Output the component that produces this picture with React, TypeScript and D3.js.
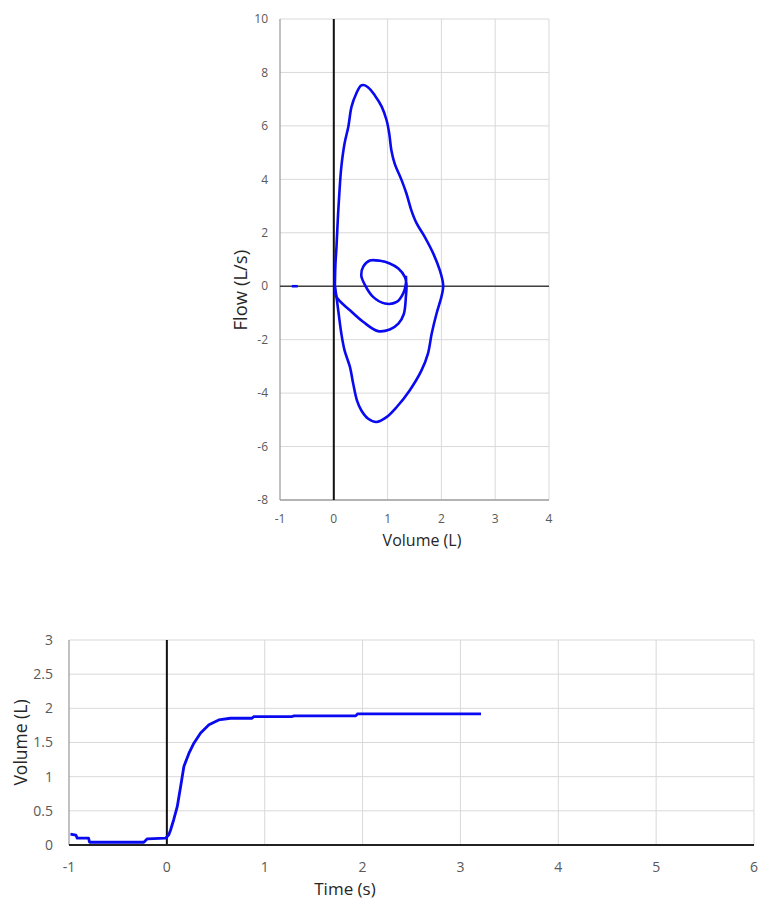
import React from "react";
import * as d3 from "d3";

// flow-volume loops: [volume (L), flow (L/s)]
const outerLoop: [number, number][] = [
  [0.02, 0.0], [0.03, 0.8], [0.05, 1.47], [0.08, 2.72], [0.11, 3.7], [0.14, 4.47],
  [0.2, 5.34], [0.27, 5.97], [0.33, 6.72], [0.42, 7.22], [0.5, 7.5], [0.55, 7.53],
  [0.64, 7.44], [0.76, 7.15], [0.89, 6.72], [0.98, 6.22], [1.03, 5.72], [1.07, 5.09],
  [1.13, 4.6], [1.26, 3.97], [1.35, 3.47], [1.44, 2.85], [1.54, 2.35], [1.69, 1.85],
  [1.85, 1.22], [1.97, 0.6], [2.03, 0.1], [2.03, -0.1], [2.0, -0.4], [1.91, -1.02],
  [1.82, -1.77], [1.75, -2.52], [1.63, -3.15], [1.41, -3.9], [1.17, -4.52], [0.98, -4.9],
  [0.79, -5.08], [0.64, -4.96], [0.51, -4.64], [0.43, -4.27], [0.36, -3.64], [0.3, -3.02],
  [0.2, -2.4], [0.14, -1.77], [0.09, -1.02], [0.05, -0.4], [0.02, 0.0],
];

const innerLoop: [number, number][] = [
  [0.02, 0.0], [0.05, -0.4], [0.3, -0.9], [0.55, -1.34], [0.82, -1.68], [1.04, -1.62],
  [1.2, -1.4], [1.3, -1.05], [1.34, -0.4], [1.35, 0.1], [1.32, 0.35], [1.2, 0.66],
  [1.04, 0.85], [0.86, 0.95], [0.67, 0.96], [0.55, 0.74], [0.51, 0.41], [0.58, 0.04],
  [0.73, -0.4], [0.95, -0.65], [1.17, -0.59], [1.29, -0.27], [1.34, 0.1], [1.34, 0.4],
];

const strayBit: [number, number][] = [[-0.78, 0.0], [-0.67, 0.0]];

// volume-time curve: [time (s), volume (L)]
const volumeTime: [number, number][] = [
  [-0.985, 0.16], [-0.93, 0.146], [-0.916, 0.1], [-0.8, 0.1], [-0.79, 0.04],
  [-0.235, 0.04], [-0.2, 0.09], [-0.013, 0.1], [0.02, 0.15], [0.038, 0.22],
  [0.07, 0.37], [0.106, 0.56], [0.14, 0.85], [0.174, 1.15], [0.225, 1.34],
  [0.276, 1.49], [0.345, 1.64], [0.43, 1.76], [0.53, 1.83], [0.65, 1.855],
  [0.87, 1.855], [0.89, 1.88], [1.28, 1.88], [1.3, 1.89], [1.93, 1.89],
  [1.95, 1.92], [3.21, 1.92],
];

const fvXTicks = [-1, 0, 1, 2, 3, 4];
const fvYTicks = [-8, -6, -4, -2, 0, 2, 4, 6, 8, 10];
const vtXTicks = [-1, 0, 1, 2, 3, 4, 5, 6];
const vtYTicks = [0, 0.5, 1, 1.5, 2, 2.5, 3];

const FONT = "'Open Sans', Calibri, sans-serif";
const GRID = "#d9d9d9";
const AXIS = "#a0a0a0";
const LABEL = "#595959";
const BLUE = "#0a0af0";

export default function App() {
  // top chart scales
  const fx = d3.scaleLinear().domain([-1, 4]).range([280, 549]);
  const fy = d3.scaleLinear().domain([-8, 10]).range([500, 19]);
  const fvLine = d3
    .line<[number, number]>()
    .x((d) => fx(d[0]))
    .y((d) => fy(d[1]))
    .curve(d3.curveCatmullRom);

  // bottom chart scales
  const tx = d3.scaleLinear().domain([-1, 6]).range([69, 754]);
  const ty = d3.scaleLinear().domain([0, 3]).range([845, 640]);
  const vtLine = d3
    .line<[number, number]>()
    .x((d) => tx(d[0]))
    .y((d) => ty(d[1]));

  return (
    <svg
      width={760}
      height={899}
      style={{ position: "absolute", left: 0, top: 0, background: "#fff" }}
      fontFamily={FONT}
    >
      {/* ---- flow vs volume ---- */}
      <g>
        {fvXTicks.slice(1).map((t) => (
          <line key={"fxg" + t} x1={fx(t)} x2={fx(t)} y1={fy(-8)} y2={fy(10)} stroke={GRID} strokeWidth={1} />
        ))}
        {fvYTicks.map((t) => (
          <line key={"fyg" + t} x1={fx(-1)} x2={fx(4)} y1={fy(t)} y2={fy(t)} stroke={GRID} strokeWidth={1} />
        ))}
        <line x1={fx(-1)} x2={fx(-1)} y1={fy(-8)} y2={fy(10)} stroke={AXIS} strokeWidth={1.3} />
        <line x1={fx(-1)} x2={fx(4)} y1={fy(-8)} y2={fy(-8)} stroke={AXIS} strokeWidth={1.3} />
        <line x1={fx(-1)} x2={fx(4)} y1={fy(0)} y2={fy(0)} stroke="#404040" strokeWidth={1.5} />
        <line x1={fx(0)} x2={fx(0)} y1={fy(-8)} y2={fy(10)} stroke="#111" strokeWidth={2} />
        {[outerLoop, innerLoop, strayBit].map((s, i) => (
          <path key={"fv" + i} d={fvLine(s) || ""} fill="none" stroke={BLUE} strokeWidth={2.6} strokeLinejoin="round" />
        ))}
        {fvYTicks.map((t) => (
          <text key={"fyl" + t} x={268} y={fy(t)} dy="0.35em" textAnchor="end" fontSize={12} fill={LABEL}>
            {t}
          </text>
        ))}
        {fvXTicks.map((t) => (
          <text key={"fxl" + t} x={fx(t)} y={523} textAnchor="middle" fontSize={12} fill={LABEL}>
            {t}
          </text>
        ))}
        <text x={422} y={546} textAnchor="middle" fontSize={16} fill="#262626">
          Volume (L)
        </text>
        <text
          transform={`translate(247,${fy(0) + 4}) rotate(-90)`}
          textAnchor="middle"
          fontSize={18.5}
          fill="#262626"
        >
          Flow (L/s)
        </text>
      </g>

      {/* ---- volume vs time ---- */}
      <g>
        {vtXTicks.slice(1).map((t) => (
          <line key={"txg" + t} x1={tx(t)} x2={tx(t)} y1={ty(0)} y2={ty(3)} stroke={GRID} strokeWidth={1} />
        ))}
        {vtYTicks.map((t) => (
          <line key={"tyg" + t} x1={tx(-1)} x2={tx(6)} y1={ty(t)} y2={ty(t)} stroke={GRID} strokeWidth={1} />
        ))}
        <line x1={tx(-1)} x2={tx(-1)} y1={ty(0)} y2={ty(3)} stroke={AXIS} strokeWidth={1.3} />
        <line x1={tx(0)} x2={tx(0)} y1={ty(0)} y2={ty(3)} stroke="#111" strokeWidth={2} />
        <line x1={tx(-1)} x2={tx(6)} y1={ty(0)} y2={ty(0)} stroke="#222" strokeWidth={2} />
        <path d={vtLine(volumeTime) || ""} fill="none" stroke={BLUE} strokeWidth={2.8} strokeLinejoin="round" />
        {vtYTicks.map((t) => (
          <text key={"tyl" + t} x={53} y={ty(t)} dy="0.35em" textAnchor="end" fontSize={14} fill={LABEL}>
            {t}
          </text>
        ))}
        {vtXTicks.map((t) => (
          <text key={"txl" + t} x={tx(t)} y={872} textAnchor="middle" fontSize={14} fill={LABEL}>
            {t}
          </text>
        ))}
        <text x={345} y={895} textAnchor="middle" fontSize={17} fill="#262626">
          Time (s)
        </text>
        <text
          transform={`translate(27,${ty(1.5)}) rotate(-90)`}
          textAnchor="middle"
          fontSize={17.5}
          fill="#262626"
        >
          Volume (L)
        </text>
      </g>
    </svg>
  );
}
